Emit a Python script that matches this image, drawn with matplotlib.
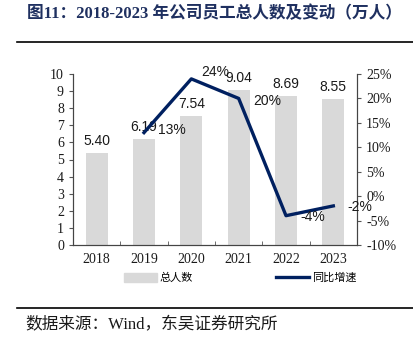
import numpy as np
import matplotlib
matplotlib.use("Agg")
import matplotlib.pyplot as plt
from matplotlib.lines import Line2D
from matplotlib.patches import Patch

years = ["2018", "2019", "2020", "2021", "2022", "2023"]
staff = [5.40, 6.19, 7.54, 9.04, 8.69, 8.55]
growth = [None, 13, 24, 20, -4, -2]
staff_labels = ["5.40", "6.19", "7.54", "9.04", "8.69", "8.55"]
growth_labels = ["", "13%", "24%", "20%", "-4%", "-2%"]

SERIF = ["Liberation Serif", "Noto Sans CJK SC"]
SANS = ["Liberation Sans", "Noto Sans CJK SC"]
CJK = ["Noto Sans CJK SC", "Liberation Serif"]
BAR = "#d9d9d9"
NAVY = "#002060"

fig = plt.figure(figsize=(4.14, 3.39), dpi=100)
W, H = 414, 339
ax = fig.add_axes([73 / W, 1 - 245 / H, (357 - 73) / W, (245 - 74) / H])
ax2 = ax.twinx()

x = np.arange(len(years))
ax.bar(x, staff, width=0.46, color=BAR, zorder=1)
for xi, v, lab in zip(x, staff, staff_labels):
    ax.text(xi, v + 0.3, lab, ha="center", va="bottom", fontsize=10,
            family=SANS, color="#1a1a1a")

gx = x[1:]
gy = [g for g in growth if g is not None]
ax2.plot(gx, gy, color=NAVY, lw=2.4, zorder=3)
# label offsets (x in categories, y in %), placed right of each point
offsets = {1: (0.3, 0.5), 2: (0.2, 1.5), 3: (0.3, -0.5), 4: (0.3, -0.3), 5: (0.3, -0.3)}
for i in range(1, len(years)):
    dx, dy = offsets[i]
    ax2.text(x[i] + dx, growth[i] + dy, growth_labels[i], ha="left", va="center",
             fontsize=10, family=SANS, color="#1a1a1a", zorder=4)

ax.set_xlim(-0.5, len(years) - 0.5)
ax.set_ylim(0, 10)
ax.set_yticks(range(0, 11))
ax2.set_ylim(-10, 25)
ax2.set_yticks(range(-10, 30, 5))
ax2.set_yticklabels([f"{t}%" for t in range(-10, 30, 5)])

ax.set_xticks(x)
ax.set_xticklabels(years)
ax.set_xticks(np.arange(0.5, len(years) - 0.5, 1), minor=True)
ax.tick_params(axis="x", which="major", length=0, pad=6)
ax.tick_params(axis="x", which="minor", direction="in", length=3, color="#555555")
ax.tick_params(axis="y", direction="out", length=3, color="#555555")
ax2.tick_params(axis="y", direction="out", length=3, color="#555555")
for a in (ax, ax2):
    for lab in a.get_xticklabels() + a.get_yticklabels():
        lab.set_family(SERIF)
        lab.set_fontsize(10)
        lab.set_color("#1a1a1a")
    a.spines["top"].set_visible(False)
    for s in ("left", "right", "bottom"):
        a.spines[s].set_color("#444444")
        a.spines[s].set_linewidth(0.8)

handles = [Patch(color=BAR), Line2D([0], [0], color=NAVY, lw=2.4)]
fig.legend(handles, ["总人数", "同比增速"], loc="center", bbox_to_anchor=(240 / W, 1 - 278 / H),
           ncol=2, frameon=False, prop={"family": CJK, "size": 8},
           handlelength=3.0, handleheight=0.9, columnspacing=7.5, handletextpad=0.2)

fig.text(27 / W, 1 - 14 / H, "图11：2018-2023 年公司员工总人数及变动（万人）",
         ha="left", va="center", fontsize=12, fontweight="bold",
         family=["Liberation Serif", "Noto Sans CJK SC"], color="#1f3060")
fig.add_artist(Line2D([17 / W, 1], [1 - 42 / H, 1 - 42 / H], color="black", lw=1.2))
fig.add_artist(Line2D([17 / W, 1], [1 - 308 / H, 1 - 308 / H], color="black", lw=1.2))
fig.text(25 / W, 1 - 325 / H, "数据来源：Wind，东吴证券研究所", ha="left", va="center",
         fontsize=12, family=["Liberation Serif", "Noto Sans CJK SC"], color="#1a1a1a")

fig.savefig("out.png", dpi=100)
